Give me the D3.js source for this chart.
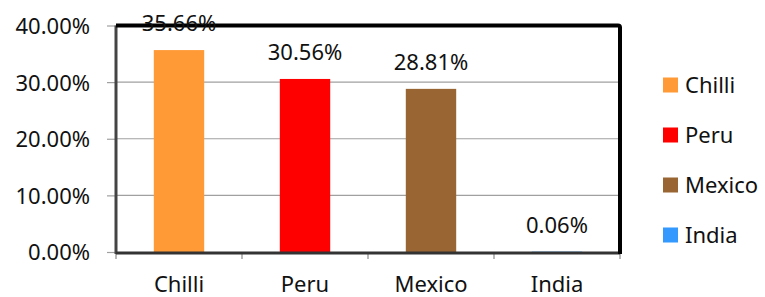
<!DOCTYPE html>
<html>
<head>
<meta charset="utf-8">
<script src="https://cdn.jsdelivr.net/npm/d3@7"></script>
<style>
  html, body { margin: 0; padding: 0; background: #fff; }
  svg text { font-family: "Noto Sans", "Open Sans", sans-serif; fill: #111; }
</style>
</head>
<body>
<div id="chart"></div>
<script>
(function () {
  // ===== data =====
  const categories = ['Chilli', 'Peru', 'Mexico', 'India'];
  const shares = [35.66, 30.56, 28.81, 0.06];
  const colors = ['#FF9A36', '#FF0000', '#996633', '#3399FF'];
  const yTicks = [0, 10, 20, 30, 40];

  const W = 765, H = 297;
  const plot = { left: 116, right: 620, top: 25.5, bottom: 252 };
  const FONT = 22;

  const svg = d3.select('#chart').append('svg')
    .attr('width', W).attr('height', H);

  const x = d3.scaleBand().domain(categories).range([plot.left, plot.right]).paddingInner(0).paddingOuter(0);
  const y = d3.scaleLinear().domain([0, 40]).range([plot.bottom, plot.top]);
  const barW = x.bandwidth() * 0.4;

  // gridlines
  svg.append('g').selectAll('line')
    .data(yTicks.filter(t => t > 0 && t < 40))
    .join('line')
    .attr('x1', plot.left).attr('x2', plot.right)
    .attr('y1', d => y(d)).attr('y2', d => y(d))
    .attr('stroke', '#a0a0a0').attr('stroke-width', 1.2);

  // bars
  svg.append('g').selectAll('rect')
    .data(categories)
    .join('rect')
    .attr('x', (d) => x(d) + (x.bandwidth() - barW) / 2)
    .attr('width', barW)
    .attr('y', (d, i) => y(shares[i]))
    .attr('height', (d, i) => y(0) - y(shares[i]))
    .attr('fill', (d, i) => colors[i]);

  // y axis
  const yAxis = d3.axisLeft(y).tickValues(yTicks).tickSize(9)
    .tickFormat(d => d.toFixed(2) + '%');
  const ya = svg.append('g').attr('transform', `translate(${plot.left},0)`).call(yAxis);
  ya.select('.domain').remove();
  ya.selectAll('.tick line').attr('stroke', '#a0a0a0').attr('stroke-width', 1.2);
  ya.selectAll('.tick text').attr('font-size', FONT).attr('fill', '#111')
    .attr('font-family', '"Noto Sans", sans-serif').attr('x', -26).attr('dy', '0.36em');

  // x axis
  const xa = svg.append('g').attr('transform', `translate(0,${plot.bottom})`)
    .call(d3.axisBottom(x).tickSize(0).tickPadding(24));
  xa.select('.domain').remove();
  xa.selectAll('.tick text').attr('font-size', FONT).attr('fill', '#111')
    .attr('font-family', '"Noto Sans", sans-serif');
  // x tick marks at band boundaries
  const bounds = categories.map(c => x(c)).concat([plot.right]);
  svg.append('g').selectAll('line')
    .data(bounds)
    .join('line')
    .attr('x1', d => d).attr('x2', d => d)
    .attr('y1', plot.bottom).attr('y2', plot.bottom + 7)
    .attr('stroke', '#a0a0a0').attr('stroke-width', 1.5);

  // frame: left & bottom axis lines (dark grey), top & right (black, thick)
  svg.append('line')
    .attr('x1', plot.left).attr('x2', plot.left)
    .attr('y1', plot.top).attr('y2', plot.bottom + 2)
    .attr('stroke', '#444').attr('stroke-width', 3);
  svg.append('line')
    .attr('x1', plot.left).attr('x2', plot.right)
    .attr('y1', plot.bottom + 1).attr('y2', plot.bottom + 1)
    .attr('stroke', '#333').attr('stroke-width', 3);
  svg.append('path')
    .attr('d', `M${plot.left},${plot.top} H${plot.right - 2} Q${plot.right},${plot.top} ${plot.right},${plot.top + 2} V${plot.bottom + 2}`)
    .attr('fill', 'none').attr('stroke', '#000').attr('stroke-width', 4);

  // data labels
  svg.append('g').selectAll('text')
    .data(categories)
    .join('text')
    .attr('x', d => x(d) + x.bandwidth() / 2)
    .attr('y', (d, i) => y(shares[i]) - 19)
    .attr('text-anchor', 'middle')
    .attr('font-size', FONT)
    .text((d, i) => shares[i].toFixed(2) + '%');

  // legend
  const ly = d3.scalePoint().domain(categories).range([85, 235]);
  const lg = svg.append('g').selectAll('g')
    .data(categories)
    .join('g')
    .attr('transform', d => `translate(663,${ly(d)})`);
  lg.append('rect')
    .attr('x', 0).attr('y', -7.5).attr('width', 15).attr('height', 15)
    .attr('fill', (d, i) => colors[i]);
  lg.append('text')
    .attr('x', 22).attr('dy', '0.36em')
    .attr('font-size', FONT)
    .text(d => d);
})();
</script>
</body>
</html>
